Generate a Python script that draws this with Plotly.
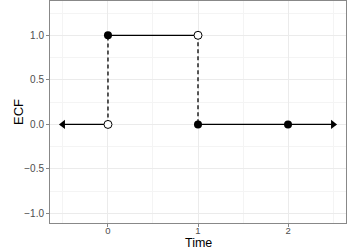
import plotly.graph_objects as go

# step function data
seg_x0 = [-0.5, 0, 1, 2]
seg_x1 = [0, 1, 2, 2.5]
seg_y = [0, 1, 0, 0]
jump_x = [0, 1]
jump_from = [0, 1]
jump_to = [1, 0]
filled_x = [0, 1, 2]
filled_y = [1, 0, 0]
open_x = [0, 1]
open_y = [0, 1]
arrow_x = [-0.5, 2.5]
arrow_y = [0, 0]
arrow_sym = ["triangle-left", "triangle-right"]
x_ticks = [0, 1, 2]
y_ticks = [-1.0, -0.5, 0.0, 0.5, 1.0]

fig = go.Figure()
for a, b, y in zip(seg_x0, seg_x1, seg_y):
    fig.add_trace(go.Scatter(x=[a, b], y=[y, y], mode="lines",
                             line=dict(color="black", width=1.3), hoverinfo="skip"))
for x, a, b in zip(jump_x, jump_from, jump_to):
    fig.add_trace(go.Scatter(x=[x, x], y=[a, b], mode="lines",
                             line=dict(color="black", width=1.3, dash="4px,3px"), hoverinfo="skip"))
fig.add_trace(go.Scatter(x=arrow_x, y=arrow_y, mode="markers",
                         marker=dict(symbol=arrow_sym, size=8, color="black")))
fig.add_trace(go.Scatter(x=filled_x, y=filled_y, mode="markers",
                         marker=dict(size=8, color="black")))
fig.add_trace(go.Scatter(x=open_x, y=open_y, mode="markers",
                         marker=dict(size=8, color="white", line=dict(color="black", width=1))))

fig.update_layout(
    width=363, height=249, showlegend=False,
    margin=dict(l=50, r=17, t=1, b=26, autoexpand=False),
    plot_bgcolor="white", paper_bgcolor="white",
    font=dict(family="Liberation Sans, Arial, sans-serif"),
    annotations=[
        dict(text="Time", xref="paper", yref="paper", x=0.5, y=0, yshift=-20,
             xanchor="center", yanchor="middle", showarrow=False, borderpad=0,
             font=dict(size=12.5, color="black")),
        dict(text="ECF", xref="paper", yref="paper", x=0, y=0.5, xshift=-32,
             xanchor="center", yanchor="middle", showarrow=False, textangle=-90,
             font=dict(size=13, color="black")),
    ],
)
fig.update_xaxes(
    range=[-0.644, 2.644], tickvals=x_ticks, ticktext=[str(v) for v in x_ticks],
    showgrid=True, gridcolor="#ebebeb", gridwidth=1, automargin=False,
    minor=dict(showgrid=True, gridcolor="#f4f4f4", tick0=-0.5, dtick=1),
    showline=True, linecolor="#888888", linewidth=1, mirror=True,
    ticks="outside", ticklen=3, tickcolor="#888888", ticklabelstandoff=-4,
    tickfont=dict(size=9.5, color="#4d4d4d"), zeroline=False,
)
fig.update_yaxes(
    range=[-1.106, 1.385], tickvals=y_ticks, ticktext=[f"{v:.1f}".replace("-", "\u2212") for v in y_ticks],
    showgrid=True, gridcolor="#ebebeb", gridwidth=1, automargin=False,
    minor=dict(showgrid=True, gridcolor="#f4f4f4", tick0=-0.75, dtick=0.5),
    showline=True, linecolor="#888888", linewidth=1, mirror=True,
    ticks="outside", ticklen=3, tickcolor="#888888",
    tickfont=dict(size=10, color="#4d4d4d"), zeroline=False,
)
fig.write_html("out.html", config={"displayModeBar": False},
               post_script="document.body.style.margin='0';")
